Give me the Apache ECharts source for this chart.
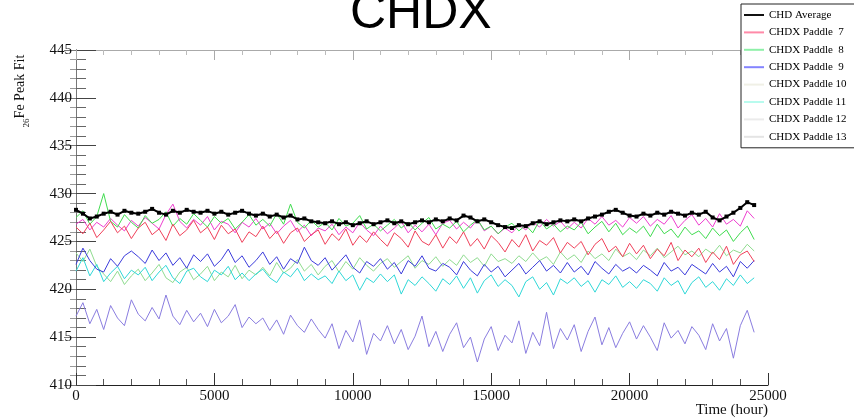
<!DOCTYPE html>
<html><head><meta charset="utf-8">
<script src="https://cdn.jsdelivr.net/npm/echarts@6/dist/echarts.min.js"></script>
<style>html,body{margin:0;padding:0;background:#fff}#c{width:854px;height:418px}</style>
</head><body><div id="c"></div>
<script>
const titleText = 'CHDX';
const xTitle = 'Time (hour)';
const legendNames = ['CHD Average','CHDX Paddle  7','CHDX Paddle  8','CHDX Paddle  9','CHDX Paddle 10','CHDX Paddle 11','CHDX Paddle 12','CHDX Paddle 13'];
const hours = [0,250,500,750,1000,1250,1500,1750,2000,2250,2500,2750,3000,3250,3500,3750,4000,4250,4500,4750,5000,5250,5500,5750,6000,6250,6500,6750,7000,7250,7500,7750,8000,8250,8500,8750,9000,9250,9500,9750,10000,10250,10500,10750,11000,11250,11500,11750,12000,12250,12500,12750,13000,13250,13500,13750,14000,14250,14500,14750,15000,15250,15500,15750,16000,16250,16500,16750,17000,17250,17500,17750,18000,18250,18500,18750,19000,19250,19500,19750,20000,20250,20500,20750,21000,21250,21500,21750,22000,22250,22500,22750,23000,23250,23500,23750,24000,24250,24500];

const chdAverage = [
428.3,427.9,427.4,427.6,427.9,428.1,427.8,428.2,428.0,
427.9,428.1,428.4,428.0,427.8,428.2,428.0,428.3,428.1,
428.0,428.2,427.9,428.1,427.8,428.0,428.2,427.9,427.7,
427.9,427.6,427.8,427.5,427.7,427.3,427.4,427.1,427.0,
426.9,427.1,426.8,427.0,426.7,426.9,427.1,426.8,427.0,
427.2,426.9,427.1,426.8,427.0,427.2,427.0,427.3,427.1,
427.4,427.2,427.7,427.5,427.1,427.3,427.0,426.7,426.5,
426.4,426.7,426.6,426.9,427.1,426.8,427.0,427.2,427.1,
427.3,427.1,427.4,427.6,427.8,428.1,428.3,428.0,427.7,
427.6,427.9,427.7,428.0,427.8,428.1,427.9,427.7,428.0,
427.8,428.1,427.5,427.2,427.6,428.0,428.5,429.1,428.8];
const paddle7 = [
426.5,425.8,426.9,425.4,426.2,427.1,425.9,426.6,425.3,
426.4,427.0,425.7,426.3,425.1,426.8,425.6,426.2,427.2,
425.9,426.5,425.2,426.7,425.8,426.3,424.9,426.0,425.5,
426.6,425.3,426.1,424.8,425.9,426.4,425.0,425.7,426.2,
424.7,425.8,425.1,426.3,424.6,425.6,424.9,426.0,425.2,
424.5,425.9,425.3,424.4,426.1,425.0,424.6,425.7,424.3,
425.5,424.8,426.0,424.5,425.3,424.2,425.6,424.9,423.9,
425.2,424.4,425.7,424.0,425.1,424.6,425.4,423.8,424.9,
424.3,425.0,423.6,424.7,425.3,423.9,424.5,423.4,424.8,
423.7,424.6,423.2,424.2,423.5,424.9,423.0,424.1,423.4,
424.3,422.8,423.9,423.1,424.5,422.6,423.6,424.0,422.9];
const paddle8 = [
427.5,428.2,426.8,427.6,430.0,427.1,426.5,427.8,427.0,
426.4,427.7,426.9,427.3,428.1,426.6,427.4,426.8,427.9,
427.2,426.5,427.6,426.9,427.4,426.3,427.0,427.8,426.7,
427.3,426.6,427.9,426.8,428.9,427.0,426.4,427.2,426.5,
427.0,426.2,427.4,426.6,426.9,427.7,426.3,426.8,426.1,
426.7,427.3,426.4,427.0,426.2,426.9,427.5,426.3,426.8,
426.4,427.1,426.0,426.7,427.3,426.2,426.6,425.8,426.5,
426.9,426.1,426.7,425.9,427.2,426.3,426.8,426.0,426.6,
426.2,427.0,425.8,426.5,427.1,426.0,426.9,425.7,426.4,
425.9,426.6,425.5,426.8,425.8,426.3,425.4,426.5,425.7,
426.1,425.3,426.4,425.6,426.2,425.0,425.9,426.6,425.2];
const paddle9 = [
422.6,424.3,423.0,422.1,421.8,423.2,422.4,423.5,424.0,
423.4,422.7,424.1,423.0,423.8,422.5,423.3,422.2,423.6,
422.9,423.7,422.4,423.1,424.2,422.8,423.5,422.3,423.0,
423.9,422.6,423.4,422.1,423.2,422.7,424.4,423.0,422.5,
423.3,422.0,422.8,423.6,422.3,421.7,422.9,422.4,423.2,
422.1,422.8,421.6,423.0,422.4,423.5,422.2,421.9,422.7,
422.3,421.5,422.9,422.0,421.4,422.6,421.8,422.4,421.3,
422.0,422.7,421.6,422.3,423.0,421.9,422.5,421.7,422.8,
421.8,422.4,421.5,422.9,422.2,421.6,422.6,421.9,422.3,
421.7,422.5,422.0,421.4,422.8,421.9,422.3,421.5,422.6,
422.1,421.6,422.7,421.8,422.4,421.3,422.9,422.2,423.0];
const paddle10 = [
426.8,427.3,426.2,427.0,426.5,427.4,426.7,426.1,427.2,
426.6,427.5,426.9,426.3,427.8,428.9,427.1,426.4,427.3,
426.7,427.6,426.2,427.1,426.8,425.9,427.0,426.5,427.4,
426.3,426.9,425.8,426.6,427.2,426.0,426.7,425.6,426.4,
426.1,426.8,425.7,426.5,425.9,427.0,426.2,425.6,426.6,
425.8,426.4,427.1,425.9,426.7,426.0,426.8,425.7,426.9,
427.2,426.3,427.0,426.4,427.3,426.1,426.6,425.8,426.4,
425.9,426.7,426.2,427.0,426.5,427.3,426.6,427.1,426.3,
427.0,426.4,427.4,426.8,427.6,426.7,427.2,426.5,427.5,
426.9,427.6,426.6,427.3,426.8,427.7,426.4,427.2,427.8,
426.7,427.4,426.5,427.9,426.8,427.3,426.6,428.2,427.4];
const paddle11 = [
421.9,423.3,421.4,422.6,420.8,421.7,422.4,421.1,422.0,
421.5,422.3,420.9,421.8,422.5,421.2,420.6,421.9,422.2,
421.3,420.8,422.0,421.5,422.4,421.0,421.7,420.9,421.6,
422.1,421.2,420.7,421.8,421.3,422.2,420.9,421.6,421.0,
421.4,420.6,421.9,420.9,421.5,419.9,421.2,420.7,421.6,
420.8,421.5,419.5,421.0,420.4,421.3,420.6,419.8,421.1,
420.5,421.4,420.1,421.2,419.6,420.9,421.5,420.3,421.0,
420.4,419.2,420.8,421.3,420.0,420.7,419.4,421.1,420.6,
421.2,420.3,420.9,419.7,421.0,420.5,421.4,420.2,420.8,
420.1,421.0,420.6,419.8,421.2,420.4,420.9,419.5,420.7,
421.3,420.2,420.8,419.9,421.1,420.4,421.5,420.6,421.2];
const paddle12 = [
423.8,422.9,424.2,422.4,421.6,420.8,421.9,420.5,421.4,
422.1,420.9,421.7,422.6,421.2,420.7,421.8,422.3,421.0,
421.6,422.4,420.9,421.8,421.3,422.5,421.1,422.0,421.5,
422.3,421.4,422.8,421.7,422.2,423.1,421.9,422.6,421.5,
422.4,423.0,421.8,422.9,422.1,423.3,422.5,421.9,422.7,
423.2,422.3,422.9,423.5,422.2,423.0,422.6,423.4,422.4,
423.1,422.5,423.6,422.8,423.3,422.4,423.7,422.9,423.2,
422.7,423.5,422.9,423.8,423.0,423.4,422.6,423.9,423.1,
423.6,422.8,424.0,423.2,423.7,423.0,424.2,423.4,423.8,
423.1,424.1,423.5,424.3,423.3,423.9,424.5,423.6,424.0,
423.4,424.2,423.7,424.6,423.5,424.1,423.8,424.7,424.0];
const paddle13 = [
417.2,418.6,416.4,417.9,415.8,418.3,417.0,416.2,418.9,
417.4,416.7,418.1,416.9,419.4,417.2,416.3,417.8,416.6,
417.5,416.1,417.9,416.5,417.2,418.4,416.0,417.1,416.4,
417.0,415.7,416.8,415.3,417.3,416.2,415.5,416.9,415.8,
414.9,416.4,413.8,415.7,414.5,416.8,413.2,415.4,414.6,
416.2,414.3,415.8,413.7,415.1,417.2,414.0,415.6,413.5,
415.3,416.5,413.9,415.0,412.4,414.8,416.1,413.6,415.2,
414.4,416.7,413.3,415.5,414.1,417.6,413.8,415.9,414.7,
416.3,413.5,415.6,417.1,414.2,416.0,413.9,415.4,416.6,
414.8,416.2,415.0,413.6,416.5,414.9,415.7,414.3,416.1,
415.2,413.7,416.4,414.6,415.9,412.8,416.2,417.8,415.5];

const lineColors = ['#000000','#f0405a','#3fdc4f','#3c3cdc','#ee3fd0','#2fd8d8','#8fdc8f','#8a7de0'];
const legendIconColors = ['#111111','#ff8aa8','#8ef0a8','#8484ff','#f0f0e6','#b8fbee','#ebebeb','#e4e4e4'];
const values = [chdAverage, paddle7, paddle8, paddle9, paddle10, paddle11, paddle12, paddle13];

const serif = 'Liberation Serif';
const chart = echarts.init(document.getElementById('c'));
const series = [];
for (let k = values.length - 1; k >= 0; k--) {
  const isAvg = k === 0;
  series.push({
    name: legendNames[k], type: 'line',
    data: values[k].map((v, i) => [hours[i], v]),
    xAxisIndex: 0, yAxisIndex: 0,
    showSymbol: isAvg, showAllSymbol: true,
    symbol: isAvg ? 'rect' : 'none', symbolSize: 4,
    itemStyle: { color: lineColors[k] },
    lineStyle: { color: lineColors[k], width: isAvg ? 2 : 1 },
    z: isAvg ? 5 : 2, silent: true, animation: false
  });
}
const tickFont = { fontFamily: serif, fontSize: 15, color: '#111' };
chart.setOption({
  animation: false,
  backgroundColor: '#fff',
  title: { text: titleText, left: 350, top: -11, padding: 0,
    textStyle: { fontFamily: 'Liberation Sans', fontSize: 50, fontWeight: 'normal', color: '#000' } },
  legend: {
    orient: 'vertical', left: 741, top: 4, padding: [4.5, 30, 4.5, 3],
    itemWidth: 20, itemHeight: 2, itemGap: 4.4, icon: 'rect', selectedMode: false,
    backgroundColor: '#fff', borderColor: '#222', borderWidth: 1, borderRadius: 0,
    textStyle: { fontFamily: serif, fontSize: 11, color: '#000', lineHeight: 13 },
    data: legendNames.map((n, i) => ({ name: n, itemStyle: { color: legendIconColors[i] } }))
  },
  grid: { left: 76, right: 86, top: 50, bottom: 33 },
  xAxis: [
    { type: 'value', position: 'bottom', min: 0, max: 25000, interval: 5000,
      axisLine: { lineStyle: { color: '#222', width: 1 } },
      axisTick: { inside: true, length: 12, lineStyle: { color: '#333' } },
      minorTick: { show: true, splitNumber: 5, length: 6, lineStyle: { color: '#555' } },
      axisLabel: Object.assign({ margin: 4, formatter: v => String(v) }, tickFont), splitLine: { show: false } },
    { type: 'value', position: 'top', min: 0, max: 25000, interval: 5000,
      axisLine: { lineStyle: { color: '#aaa', width: 1 } },
      axisTick: { inside: true, length: 10, lineStyle: { color: '#aaa' } },
      minorTick: { show: true, splitNumber: 5, length: 5, lineStyle: { color: '#bbb' } },
      axisLabel: { show: false }, splitLine: { show: false } }
  ],
  yAxis: [
    { type: 'value', position: 'left', min: 410, max: 445, interval: 5,
      axisLine: { show: true, lineStyle: { color: '#444', width: 1 } },
      axisTick: { show: true, inside: true, length: 20, lineStyle: { color: '#444' } },
      minorTick: { show: true, splitNumber: 5, length: 10, lineStyle: { color: '#666' } },
      axisLabel: Object.assign({ margin: 4, formatter: v => String(v) }, tickFont), splitLine: { show: false } },
    { type: 'value', position: 'right', min: 410, max: 445, interval: 5,
      axisLine: { show: true, lineStyle: { color: '#777', width: 1 } },
      axisTick: { show: true, inside: true, length: 12, lineStyle: { color: '#777' } },
      minorTick: { show: true, splitNumber: 5, length: 6, lineStyle: { color: '#999' } },
      axisLabel: { show: false }, splitLine: { show: false } }
  ],
  graphic: [
    { type: 'text', x: 768, y: 410, silent: true,
      style: { text: xTitle, fontFamily: serif, fontSize: 15, fill: '#111', align: 'right', verticalAlign: 'middle' } },
    { type: 'text', x: 20, y: 91, rotation: Math.PI / 2, silent: true,
      style: { text: '{s|26}Fe Peak Fit', fontFamily: serif, fontSize: 14, fill: '#111', align: 'center', verticalAlign: 'middle',
        rich: { s: { fontFamily: serif, fontSize: 9, fill: '#111', verticalAlign: 'bottom', lineHeight: 22 } } } }
  ],
  series: series
});
</script>
</body></html>
